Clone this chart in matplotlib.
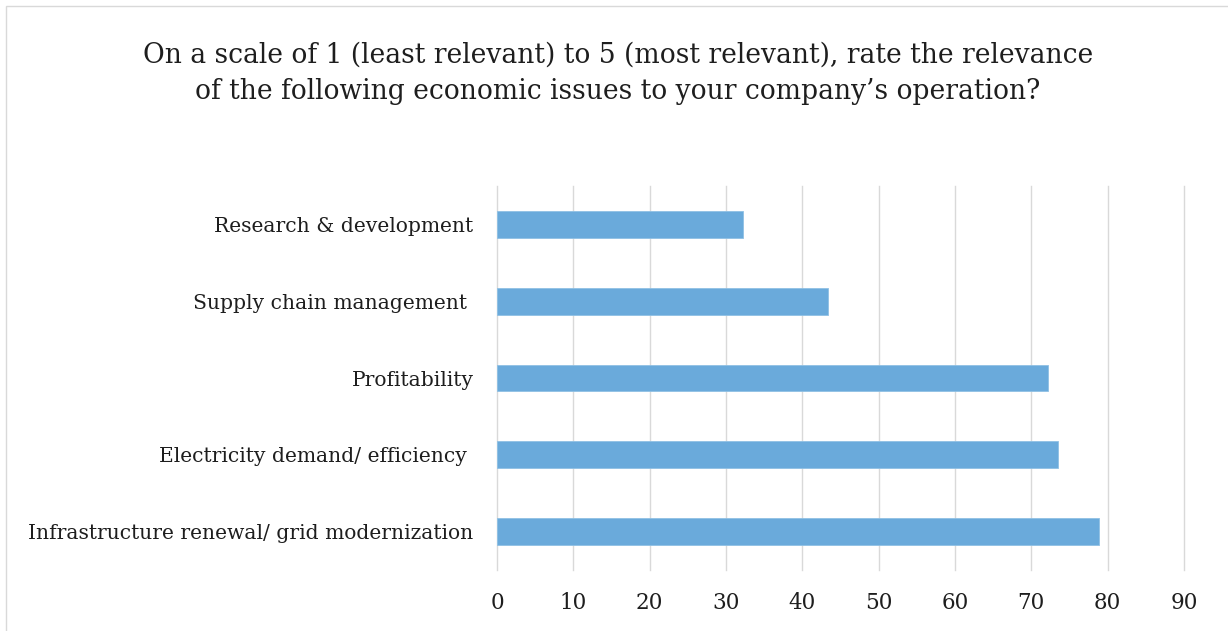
import matplotlib
matplotlib.use("Agg")
import matplotlib.pyplot as plt
from matplotlib.patches import Rectangle

categories = [
    "Infrastructure renewal/ grid modernization",
    "Electricity demand/ efficiency ",
    "Profitability",
    "Supply chain management ",
    "Research & development",
]
values = [78.9, 73.5, 72.2, 43.4, 32.2]
x_ticks = [0, 10, 20, 30, 40, 50, 60, 70, 80, 90]
title = ("On a scale of 1 (least relevant) to 5 (most relevant), rate the relevance\n"
         "of the following economic issues to your company\u2019s operation?")

plt.rcParams["font.family"] = ["DejaVu Serif"]

fig = plt.figure(figsize=(12.28, 6.31), dpi=100)
fig.patch.set_facecolor("white")

# light chart-area frame along top and left
fig.patches.append(Rectangle((6 / 1228, -0.1), 1.2, 1.1 - 6 / 631,
                             transform=fig.transFigure, fill=False,
                             edgecolor="#d9d9d9", linewidth=1.0))

ax = fig.add_axes([497 / 1228, 61 / 631, 687 / 1228, 384 / 631])
y = range(len(categories))
ax.barh(list(y), values, height=0.35, color="#6aaadb",
        edgecolor="#8fc0e4", linewidth=0.6, zorder=3)

ax.set_xlim(0, 90)
ax.set_ylim(-0.5, len(categories) - 0.5)
ax.set_xticks(x_ticks)
ax.set_xticklabels([str(t) for t in x_ticks])
ax.set_yticks(list(y))
ax.set_yticklabels(categories)
ax.grid(axis="x", color="#d9d9d9", linewidth=1.0, zorder=0)
for gl in ax.get_xgridlines():
    gl.set_clip_on(False)
ax.set_axisbelow(True)
for s in ax.spines.values():
    s.set_visible(False)
ax.tick_params(axis="both", length=0, colors="#1e1e1e")
ax.tick_params(axis="x", pad=16, labelsize=15.5)
ax.tick_params(axis="y", pad=17, labelsize=14.6)

fig.text(0.503, 0.8835, title, ha="center", va="center", fontsize=19.1,
         color="#1e1e1e", linespacing=1.45)

fig.savefig("out.png", dpi=100, facecolor="white")
